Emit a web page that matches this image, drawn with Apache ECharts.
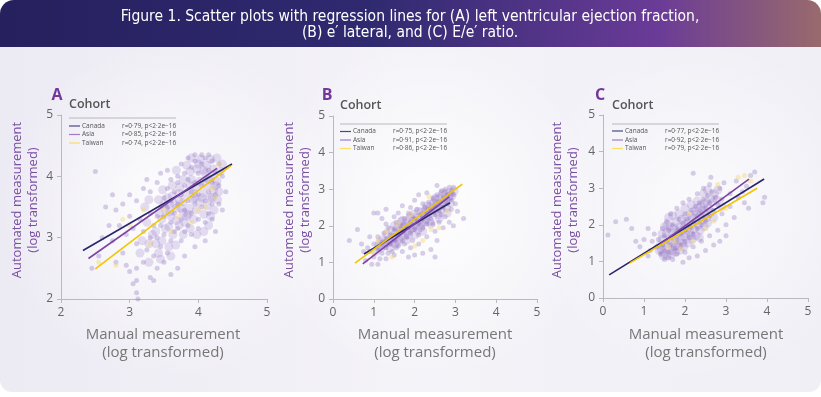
<!DOCTYPE html>
<html>
<head>
<meta charset="utf-8">
<script src="https://cdn.jsdelivr.net/npm/echarts@6/dist/echarts.min.js"></script>
<style>
  html, body { margin: 0; padding: 0; background: #ffffff; }
  #main { width: 821px; height: 397px; }
</style>
</head>
<body>
<div id="main"></div>
<script>
// ---- data (log-transformed values) ----
var aPoints = [[3.45,3.2],[3.5,3.35],[3.55,3.5],[3.5,3.05],[3.6,3.25],[3.6,3.6],[3.65,3.4],[3.65,3.75],[3.7,3.15],[3.7,3.55],[3.7,3.9],[3.75,3.3],[3.75,3.7],[3.8,3.45],[3.8,3.85],[3.8,4.05],[3.85,3.2],[3.85,3.6],[3.85,3.95],[3.9,3.4],[3.9,3.75],[3.9,4.15],[3.95,3.55],[3.95,3.9],[3.95,4.25],[4.0,3.3],[4.0,3.7],[4.0,4.05],[4.05,3.5],[4.05,3.85],[4.05,4.2],[4.1,3.6],[4.1,3.95],[4.1,4.3],[4.15,3.4],[4.15,3.75],[4.15,4.1],[4.2,3.55],[4.2,3.9],[4.2,4.25],[4.25,3.7],[4.25,4.05],[4.3,3.85],[4.3,4.2],[4.35,4.0],[3.55,3.8],[3.6,2.95],[3.65,3.1],[3.75,2.95],[3.8,3.1],[3.9,3.05],[4.0,3.15],[4.1,3.25],[4.2,3.3],[3.95,4.35],[4.05,4.35],[4.15,4.35],[3.85,4.3],[3.75,4.2],[3.7,4.0],[3.6,3.95],[3.5,3.65],[3.45,3.5],[3.4,3.35],[3.4,3.0],[3.35,3.2],[3.3,3.4],[3.3,3.0],[3.25,2.8],[3.35,2.7],[3.45,2.85],[3.5,2.6],[3.4,2.5],[3.55,2.75],[3.2,3.1],[3.15,3.3],[3.1,2.9],[3.2,2.6],[3.1,2.5],[3.05,3.15],[3.0,3.35],[2.95,3.05],[2.9,2.75],[2.85,3.2],[2.8,3.45],[2.75,2.95],[2.7,3.2],[2.65,3.5],[2.6,3.0],[2.9,3.55],[3.0,3.7],[3.1,3.6],[3.2,3.8],[3.3,3.75],[3.4,3.9],[3.45,4.05],[3.55,4.1],[3.25,3.95],[3.1,2.3],[3.1,2.1],[3.12,2.0],[3.05,2.25],[3.3,2.35],[3.6,2.4],[3.7,2.5],[3.35,2.3],[2.55,2.7],[2.45,2.5],[2.5,4.08],[2.75,3.7],[3.8,2.7],[3.95,2.85],[4.1,2.95],[4.25,3.1],[4.35,3.45],[4.4,3.75],[4.3,3.55],[2.95,2.55],[2.8,2.6],[3.0,2.45]];
var aCorePoints = [[3.42,3.62],[3.48,3.78],[3.52,3.15],[3.58,3.42],[3.62,3.68],[3.63,3.05],[3.68,3.28],[3.72,3.62],[3.73,3.82],[3.78,3.4],[3.78,3.58],[3.82,3.72],[3.83,3.35],[3.87,3.48],[3.88,3.85],[3.88,4.08],[3.92,3.62],[3.93,3.3],[3.97,3.82],[3.98,4.12],[4.02,3.58],[4.02,3.92],[4.03,4.28],[4.07,3.72],[4.08,3.38],[4.08,4.1],[4.12,3.85],[4.12,4.18],[4.13,3.52],[4.17,3.65],[4.18,3.98],[4.18,4.28],[4.22,3.78],[4.22,4.12],[4.27,3.92],[4.27,4.3],[4.32,4.08],[4.28,3.62],[4.23,3.45],[4.18,3.35],[3.68,3.48],[3.72,3.72],[3.58,3.55],[3.52,3.45],[3.47,3.3],[3.57,3.18],[3.67,2.88],[3.57,2.85],[3.47,2.95],[3.42,2.75],[3.38,2.9],[3.33,3.05],[3.28,2.9],[3.38,3.1],[3.43,3.4],[3.62,3.85],[3.68,4.1],[3.78,3.95],[3.83,4.18],[3.9,4.3],[4.0,4.2],[3.97,3.45],[3.93,3.72],[3.88,3.15],[3.78,3.05],[3.98,3.05],[4.08,3.1],[3.72,3.2],[4.15,3.2],[3.85,3.38],[4.05,3.65],[4.25,3.85],[4.15,3.95],[3.9,3.95],[3.65,3.55],[3.55,3.65],[3.75,3.48],[3.95,3.65],[4.2,3.65],[4.3,3.75],[4.35,4.2],[4.1,4.05],[3.8,3.25],[3.6,3.35],[3.5,3.55],[3.25,3.25],[3.22,3.5],[3.28,3.62],[3.18,2.95],[3.15,2.75],[3.28,2.6],[3.45,2.65],[3.6,2.7]];
var aTaiwanPoints = [[2.9,3.3],[3.0,3.2],[2.55,2.6],[3.2,3.45],[3.5,3.45],[3.7,3.35],[3.9,3.25],[4.1,3.5],[4.25,3.65],[4.3,4.2],[3.6,3.1],[2.8,2.55],[3.3,2.9],[4.0,3.45],[4.2,3.8]];
var bPoints = [[0.9,1.3],[1.0,1.15],[1.0,1.5],[1.1,1.35],[1.1,1.7],[1.2,1.25],[1.2,1.55],[1.25,1.8],[1.3,1.4],[1.3,1.65],[1.35,1.95],[1.4,1.5],[1.4,1.75],[1.45,1.3],[1.5,1.6],[1.5,1.9],[1.55,2.1],[1.6,1.45],[1.6,1.75],[1.65,2.0],[1.7,1.6],[1.7,1.85],[1.75,2.2],[1.8,1.7],[1.8,1.95],[1.85,2.35],[1.9,1.8],[1.9,2.1],[1.95,1.6],[2.0,1.9],[2.0,2.2],[2.05,2.45],[2.1,1.75],[2.1,2.05],[2.15,2.3],[2.2,1.95],[2.2,2.2],[2.25,2.5],[2.3,2.05],[2.3,2.35],[2.35,2.65],[2.4,2.2],[2.4,2.45],[2.45,2.75],[2.5,2.3],[2.5,2.55],[2.55,2.85],[2.6,2.4],[2.6,2.65],[2.65,2.95],[2.7,2.5],[2.7,2.75],[2.75,3.0],[2.8,2.6],[2.8,2.85],[2.85,3.05],[2.9,2.7],[2.9,2.95],[2.95,2.85],[2.95,3.05],[1.5,2.25],[1.3,2.05],[1.2,2.2],[1.1,2.35],[0.9,1.7],[0.75,1.3],[0.7,1.5],[0.8,1.05],[0.95,0.95],[1.1,0.95],[1.3,1.1],[1.5,1.2],[1.7,1.3],[1.9,1.4],[2.1,1.5],[2.3,1.7],[2.5,1.85],[2.6,2.1],[2.75,2.25],[2.9,2.45],[3.0,2.6],[3.05,2.4],[3.2,2.2],[2.85,2.1],[2.7,1.95],[2.55,1.6],[2.4,1.35],[2.2,1.25],[2.0,1.2],[1.85,1.15],[2.5,1.15],[2.95,2.0],[0.6,1.9],[1.0,2.35],[1.3,2.45],[1.7,2.55],[2.0,2.7],[2.3,2.9],[2.1,2.85],[0.4,1.6],[2.55,3.1],[1.9,2.5],[1.6,2.35],[2.2,2.6],[2.45,2.05],[2.65,2.3],[1.75,1.5],[1.55,1.4],[1.35,1.25],[1.15,1.1],[0.85,1.4]];
var bCorePoints = [[1.05,1.3],[1.12,1.45],[1.18,1.4],[1.22,1.62],[1.28,1.52],[1.32,1.78],[1.38,1.6],[1.42,1.88],[1.47,1.68],[1.52,1.5],[1.53,1.8],[1.58,1.95],[1.62,1.62],[1.67,1.78],[1.68,2.12],[1.72,1.95],[1.77,1.72],[1.78,2.05],[1.82,1.85],[1.87,2.0],[1.88,2.22],[1.92,1.92],[1.97,2.12],[1.98,2.32],[2.02,2.0],[2.07,2.22],[2.08,1.88],[2.12,2.15],[2.17,2.38],[2.18,2.08],[2.22,2.3],[2.27,2.18],[2.28,2.45],[2.32,2.28],[2.37,2.52],[2.38,2.12],[2.42,2.35],[2.47,2.62],[2.48,2.42],[2.52,2.72],[2.57,2.5],[2.58,2.3],[2.62,2.75],[2.67,2.58],[2.68,2.85],[2.72,2.65],[2.77,2.88],[2.78,2.5],[2.82,2.75],[2.87,2.92],[2.88,2.62],[2.92,2.82],[2.97,2.95],[1.45,1.55],[1.55,1.7],[1.65,1.85],[1.75,2.0],[1.85,1.75],[1.95,1.95],[2.05,2.1],[2.15,1.95],[2.25,2.1],[2.35,2.4],[2.45,2.5],[2.55,2.6],[2.65,2.45],[2.75,2.7],[2.85,2.8],[1.25,1.45],[1.35,1.55],[1.15,1.55],[1.4,1.4],[1.6,1.55],[1.8,1.6],[2.0,1.75],[2.2,1.85],[2.4,2.05],[2.6,2.2],[2.8,2.35],[1.5,2.0],[1.7,2.15],[1.9,2.25],[2.1,2.4],[2.3,2.55],[2.5,2.75],[2.7,2.9]];
var bTaiwanPoints = [[1.1,1.6],[1.3,1.85],[1.6,2.05],[1.9,2.3],[2.2,1.6],[2.4,1.9],[2.6,1.95],[1.0,1.25],[2.8,2.4],[2.0,1.45],[1.45,1.15],[2.35,2.8]];
var cPoints = [[1.4,1.2],[1.45,1.45],[1.5,1.7],[1.5,1.3],[1.55,1.55],[1.6,1.85],[1.6,1.25],[1.65,1.45],[1.7,1.7],[1.7,2.0],[1.75,1.35],[1.8,1.6],[1.8,1.9],[1.85,2.15],[1.9,1.45],[1.9,1.75],[1.95,2.05],[2.0,1.55],[2.0,1.85],[2.0,2.3],[2.05,2.15],[2.1,1.65],[2.1,1.95],[2.15,2.4],[2.2,1.75],[2.2,2.1],[2.25,2.5],[2.3,1.9],[2.3,2.25],[2.35,2.6],[2.4,2.0],[2.4,2.35],[2.45,2.7],[2.5,2.1],[2.5,2.45],[2.55,2.8],[2.6,2.25],[2.6,2.6],[2.65,2.9],[2.7,2.4],[2.75,2.75],[2.8,2.55],[2.85,3.0],[2.9,2.7],[1.45,1.9],[1.55,2.1],[1.35,1.6],[1.3,1.4],[1.25,1.75],[1.2,1.55],[1.15,1.3],[1.1,1.9],[1.0,1.6],[0.9,1.4],[0.8,1.55],[1.65,2.3],[1.8,2.45],[1.95,2.6],[2.1,2.7],[2.3,2.85],[2.45,3.0],[2.6,3.1],[1.6,1.1],[1.8,1.2],[2.0,1.25],[2.2,1.4],[2.4,1.55],[2.6,1.7],[2.8,1.85],[3.0,2.0],[2.9,2.3],[3.1,2.5],[3.2,2.2],[3.3,2.75],[3.4,2.9],[3.5,3.05],[3.25,3.2],[2.7,1.45],[2.5,1.3],[2.3,1.15],[3.0,1.7],[2.85,1.55],[3.1,2.85],[2.95,3.15],[3.6,3.35],[3.45,2.6],[1.7,1.05],[1.5,1.05],[2.1,1.1],[0.12,1.72],[0.31,2.08],[0.57,2.15],[2.2,3.41],[2.63,3.3],[3.7,3.44],[3.9,2.6],[3.94,2.75],[1.95,0.98],[0.7,1.9],[1.1,1.15],[3.55,2.45]];
var cCorePoints = [[1.42,1.32],[1.45,1.6],[1.48,1.22],[1.52,1.48],[1.55,1.78],[1.58,1.38],[1.62,1.6],[1.63,1.95],[1.67,1.3],[1.68,1.78],[1.72,1.5],[1.73,1.9],[1.77,1.62],[1.78,2.08],[1.82,1.42],[1.83,1.78],[1.87,1.95],[1.88,1.58],[1.92,2.15],[1.93,1.85],[1.97,1.68],[1.98,2.0],[2.02,1.75],[2.03,2.22],[2.07,1.92],[2.08,2.05],[2.12,1.82],[2.13,2.28],[2.17,2.0],[2.18,2.18],[2.22,1.88],[2.23,2.38],[2.27,2.1],[2.28,2.3],[2.32,2.45],[2.33,2.0],[2.37,2.22],[2.38,2.52],[2.42,2.4],[2.43,2.15],[2.47,2.58],[2.48,2.3],[2.52,2.62],[2.53,2.2],[2.57,2.45],[2.62,2.72],[2.63,2.35],[2.68,2.62],[2.72,2.85],[2.78,2.68],[1.44,1.75],[1.5,1.95],[1.57,2.0],[1.4,1.45],[1.37,1.3],[1.47,1.15],[1.57,1.15],[1.67,1.2],[1.77,1.25],[1.87,1.3],[1.97,1.4],[2.07,1.5],[2.17,1.6],[2.27,1.7],[2.37,1.85],[2.47,1.95],[1.6,2.2],[1.7,2.25],[1.85,2.3],[2.0,2.45],[2.15,2.55],[2.3,2.65],[2.45,2.85],[2.55,2.95],[1.75,1.4],[1.95,1.5],[2.15,1.7],[2.35,1.65],[2.55,2.05],[2.7,2.2],[2.9,2.5],[2.8,2.95]];
var cTaiwanPoints = [[1.6,1.4],[1.9,1.35],[2.2,1.55],[2.5,1.9],[2.7,2.1],[3.0,2.45],[3.3,3.3],[3.45,3.35],[2.1,2.3],[1.75,1.55],[2.8,3.1],[3.6,3.2]];

// regression line end points
var aCanadaFit = [[2.32,2.79],[4.49,4.2]];
var aAsiaFit = [[2.40,2.66],[4.27,4.13]];
var aTaiwanFit = [[2.50,2.49],[4.47,4.17]];
var bCanadaFit = [[0.76,1.23],[2.87,2.63]];
var bAsiaFit = [[0.73,0.96],[2.85,2.79]];
var bTaiwanFit = [[0.54,0.98],[3.17,3.14]];
var cCanadaFit = [[0.15,0.63],[3.93,3.25]];
var cAsiaFit = [[1.40,1.48],[3.56,3.25]];
var cTaiwanFit = [[0.66,0.96],[3.76,3.0]];

var cohorts = ['Canada', 'Asia', 'Taiwan'];
var aStats = ['r=0·79, p<2·2e−16', 'r=0·85, p<2·2e−16', 'r=0·74, p<2·2e−16'];
var bStats = ['r=0·75, p<2·2e−16', 'r=0·91, p<2·2e−16', 'r=0·86, p<2·2e−16'];
var cStats = ['r=0·77, p<2·2e−16', 'r=0·92, p<2·2e−16', 'r=0·79, p<2·2e−16'];
var tickLabelsA = [2, 3, 4, 5];
var tickLabelsBC = [0, 1, 2, 3, 4, 5];

var lineColors = ['#29266b', '#7c43a3', '#f2c500'];
var legendColors = ['#4a4784', '#a07cc6', '#f7dd6a'];
var FONT = 'Open Sans, sans-serif';

var myChart = echarts.init(document.getElementById('main'));

var panels = [
  { grid: { left: 61, top: 115, width: 206, height: 184 }, ticks: tickLabelsA,
    pts: aPoints, core: aCorePoints, tw: aTaiwanPoints, fits: [aCanadaFit, aAsiaFit, aTaiwanFit], stats: aStats,
    letter: ['A', 57, 95], cohort: [69, 104], rule: 118, rows: [126, 134.5, 143], yName: 25, xName: 163 },
  { grid: { left: 333, top: 116, width: 204, height: 183 }, ticks: tickLabelsBC,
    pts: bPoints, core: bCorePoints, tw: bTaiwanPoints, fits: [bCanadaFit, bAsiaFit, bTaiwanFit], stats: bStats,
    letter: ['B', 327, 95], cohort: [340, 105], rule: 124, rows: [131.5, 140, 148.5], yName: 297, xName: 435 },
  { grid: { left: 603, top: 115, width: 205, height: 183 }, ticks: tickLabelsBC,
    pts: cPoints, core: cCorePoints, tw: cTaiwanPoints, fits: [cCanadaFit, cAsiaFit, cTaiwanFit], stats: cStats,
    letter: ['C', 600, 95], cohort: [612, 105], rule: 124, rows: [131, 140, 148.5], yName: 565, xName: 706 }
];

var grids = [], xAxes = [], yAxes = [], series = [];
var graphics = [
  { type: 'rect', z: -10, shape: { x: 0, y: 0, width: 821, height: 392, r: [14, 14, 12, 12] },
    style: { fill: new echarts.graphic.LinearGradient(0, 0, 1, 0, [
      { offset: 0, color: '#eceaf3' }, { offset: 0.5, color: '#f4f3f8' }, { offset: 1, color: '#f0eff6' }]) } },
  { type: 'circle', z: -9, shape: { cx: 170, cy: 210, r: 170 },
    style: { fill: new echarts.graphic.RadialGradient(0.5, 0.5, 0.5, [
      { offset: 0, color: 'rgba(255,255,255,0.9)' }, { offset: 1, color: 'rgba(255,255,255,0)' }]) } },
  { type: 'circle', z: -9, shape: { cx: 430, cy: 210, r: 170 },
    style: { fill: new echarts.graphic.RadialGradient(0.5, 0.5, 0.5, [
      { offset: 0, color: 'rgba(255,255,255,0.9)' }, { offset: 1, color: 'rgba(255,255,255,0)' }]) } },
  { type: 'circle', z: -9, shape: { cx: 700, cy: 210, r: 170 },
    style: { fill: new echarts.graphic.RadialGradient(0.5, 0.5, 0.5, [
      { offset: 0, color: 'rgba(255,255,255,0.7)' }, { offset: 1, color: 'rgba(255,255,255,0)' }]) } },
  { type: 'rect', z: -8, shape: { x: 0, y: 0, width: 821, height: 47, r: [14, 14, 0, 0] },
    style: { fill: new echarts.graphic.LinearGradient(0, 0, 1, 0, [
      { offset: 0, color: '#26205e' }, { offset: 0.45, color: '#2f2a70' },
      { offset: 0.8, color: '#6a3b97' }, { offset: 1, color: '#996a6c' }]) } },
  { type: 'text', x: 410, y: 17, style: { text: 'Figure 1. Scatter plots with regression lines for (A) left ventricular ejection fraction,',
    fill: '#ffffff', font: '15.5px "Liberation Sans Narrow", "DejaVu Sans Condensed", sans-serif', textAlign: 'center', textVerticalAlign: 'middle' } },
  { type: 'text', x: 410, y: 33, style: { text: '(B) e\u2032 lateral, and (C) E/e\u2032 ratio.',
    fill: '#ffffff', font: '15.5px "Liberation Sans Narrow", "DejaVu Sans Condensed", sans-serif', textAlign: 'center', textVerticalAlign: 'middle' } }
];

panels.forEach(function (p, i) {
  grids.push(p.grid);
  var axisCommon = {
    type: 'value', gridIndex: i, min: p.ticks[0], max: p.ticks[p.ticks.length - 1], interval: 1,
    splitLine: { show: false },
    axisLine: { show: true, lineStyle: { color: '#b9b9c0', width: 1 } },
    axisTick: { show: true, length: 4, lineStyle: { color: '#b9b9c0' } },
    axisLabel: { color: '#666', fontSize: 12, fontFamily: FONT, margin: 8 }
  };
  xAxes.push(Object.assign({}, axisCommon));
  yAxes.push(Object.assign({}, axisCommon));

  series.push({ type: 'scatter', xAxisIndex: i, yAxisIndex: i, data: p.core, symbolSize: 9, z: 2,
    itemStyle: { color: 'rgba(145,112,196,0.28)' } });
  series.push({ type: 'scatter', xAxisIndex: i, yAxisIndex: i, data: p.pts, symbolSize: 5, z: 2,
    itemStyle: { color: 'rgba(138,108,188,0.4)' } });
  series.push({ type: 'scatter', xAxisIndex: i, yAxisIndex: i, data: p.tw, symbolSize: 5, z: 3,
    itemStyle: { color: 'rgba(244,214,120,0.55)' } });
  p.fits.forEach(function (f, k) {
    series.push({ type: 'line', xAxisIndex: i, yAxisIndex: i, data: f, symbol: 'none', z: 5,
      lineStyle: { color: lineColors[k], width: 1.6 } });
  });

  graphics.push({ type: 'text', x: p.letter[1], y: p.letter[2], style: { text: p.letter[0], fill: '#73379b',
    font: 'bold 16px ' + FONT, textAlign: 'center', textVerticalAlign: 'middle' } });
  graphics.push({ type: 'text', x: p.cohort[0], y: p.cohort[1], style: { text: 'Cohort', fill: '#555',
    font: '600 12.5px ' + FONT, textVerticalAlign: 'middle' } });
  graphics.push({ type: 'line', shape: { x1: p.cohort[0], y1: p.rule, x2: p.cohort[0] + 107, y2: p.rule },
    style: { stroke: '#aaa', lineWidth: 0.8 } });
  p.rows.forEach(function (ry, k) {
    graphics.push({ type: 'line', shape: { x1: p.cohort[0], y1: ry, x2: p.cohort[0] + 11, y2: ry },
      style: { stroke: legendColors[k], lineWidth: 1.2 } });
    graphics.push({ type: 'text', x: p.cohort[0] + 13, y: ry, style: { text: cohorts[k], fill: '#555',
      font: '6.5px ' + FONT, textVerticalAlign: 'middle' } });
    graphics.push({ type: 'text', x: p.cohort[0] + 53, y: ry, style: { text: p.stats[k], fill: '#555',
      font: '6.5px ' + FONT, textVerticalAlign: 'middle' } });
  });
  graphics.push({ type: 'text', x: p.yName, y: 200, rotation: Math.PI / 2,
    style: { text: 'Automated measurement\n(log transformed)', fill: '#7a4ea2', font: '13px ' + FONT,
      lineHeight: 16, textAlign: 'center', textVerticalAlign: 'middle' } });
  graphics.push({ type: 'text', x: p.xName, y: 344,
    style: { text: 'Manual measurement\n(log transformed)', fill: '#777', font: '15px ' + FONT,
      lineHeight: 18, textAlign: 'center', textVerticalAlign: 'middle' } });
});

myChart.setOption({
  animation: false,
  grid: grids,
  xAxis: xAxes,
  yAxis: yAxes,
  series: series,
  graphic: graphics
});
</script>
</body>
</html>
